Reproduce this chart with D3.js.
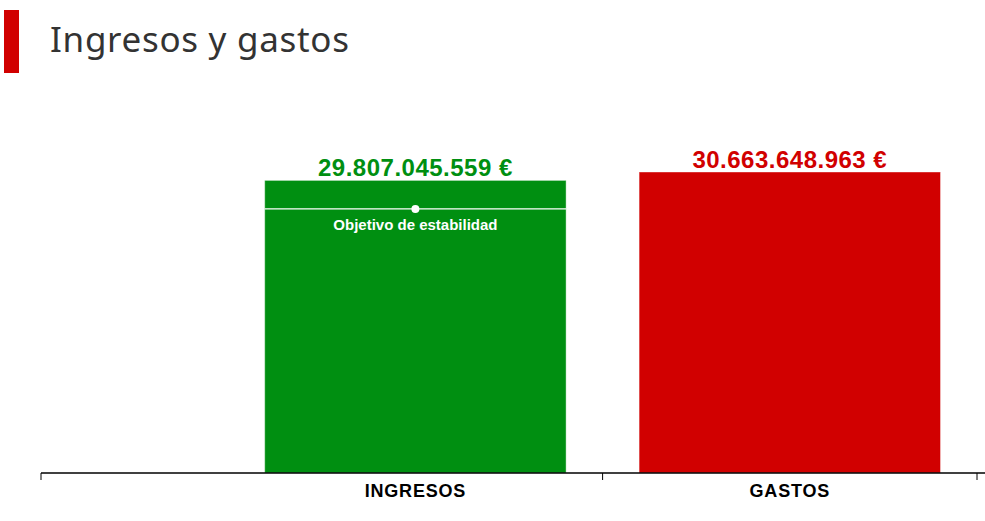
<!DOCTYPE html>
<html><head><meta charset="utf-8">
<script src="https://cdn.jsdelivr.net/npm/d3@7"></script>
<style>body{margin:0;background:#fff}svg{display:block}</style>
</head><body>
<svg id="c" width="985" height="521"></svg>
<script>
const categories = ["", "INGRESOS", "GASTOS"];
const values = [null, 29807045559, 30663648963];
const valueLabels = ["", "29.807.045.559 €", "30.663.648.963 €"];
const objetivo = [null, 26900000000, null];
const objetivoLabel = "Objetivo de estabilidad";
const colors = [null, "#008f11", "#d10000"];
const title = "Ingresos y gastos";

const svg = d3.select("#c");
const W = 985, H = 521;
const left = 41, right = 977, base = 473;

// title
svg.append("rect").attr("x",4).attr("y",10).attr("width",15).attr("height",63).attr("fill","#d10000");
svg.append("text").attr("x",50).attr("y",52).text(title)
  .attr("font-family","'Noto Sans', 'Open Sans', sans-serif").attr("font-size",35)
  .attr("letter-spacing",0.7).attr("fill","#333");

// x scale: first band is half-width (blank)
const bandW = (right-left)/2.5;
const x = d3.scaleBand().domain(categories).range([left - bandW/2, right]).paddingInner(0).paddingOuter(0);
const y = d3.scaleLinear().domain([0, 30663648963]).range([base, 172]);

const barW = bandW*0.805;
const data = categories.map((c,i)=>({c, v:values[i], lab:valueLabels[i], o:objetivo[i], col:colors[i]})).filter(d=>d.v!=null);

const g = svg.append("g");
g.selectAll("rect.bar").data(data).join("rect").attr("class","bar")
  .attr("x", d=>x(d.c)+(x.bandwidth()-barW)/2).attr("width",barW)
  .attr("y", d=>y(d.v)).attr("height", d=>base-y(d.v))
  .attr("fill", d=>d.col).attr("stroke","rgba(255,255,255,0.4)").attr("stroke-width",1);

g.selectAll("text.val").data(data).join("text").attr("class","val")
  .attr("x", d=>x(d.c)+x.bandwidth()/2).attr("y", d=>y(d.v)-4)
  .attr("text-anchor","middle").attr("font-family","'Liberation Sans', Arial, sans-serif")
  .attr("font-weight","bold").attr("font-size",24).attr("letter-spacing",0.5)
  .attr("fill", d=>d.col).text(d=>d.lab);

const od = data.filter(d=>d.o!=null);
g.selectAll("line.obj").data(od).join("line").attr("class","obj")
  .attr("x1", d=>x(d.c)+(x.bandwidth()-barW)/2).attr("x2", d=>x(d.c)+(x.bandwidth()+barW)/2)
  .attr("y1", d=>y(d.o)).attr("y2", d=>y(d.o)).attr("stroke","#fff").attr("stroke-width",1.2);
g.selectAll("circle.obj").data(od).join("circle").attr("class","obj")
  .attr("cx", d=>x(d.c)+x.bandwidth()/2).attr("cy", d=>y(d.o)).attr("r",4).attr("fill","#fff");
g.selectAll("text.obj").data(od).join("text").attr("class","obj")
  .attr("x", d=>x(d.c)+x.bandwidth()/2).attr("y", d=>y(d.o)+21)
  .attr("text-anchor","middle").attr("font-family","'Liberation Sans', Arial, sans-serif")
  .attr("font-weight","bold").attr("font-size",15).attr("fill","#fff").text(objetivoLabel);

// axis
const ax = svg.append("g").attr("transform",`translate(0,${base})`);
ax.append("line").attr("x1",left).attr("x2",W).attr("stroke","#000").attr("stroke-width",1.5);
const tickPos = [left, x("GASTOS"), right];
ax.selectAll("line.t").data(tickPos).join("line").attr("class","t")
  .attr("x1",d=>d).attr("x2",d=>d).attr("y1",0).attr("y2",7).attr("stroke","#000").attr("stroke-width",1);
ax.selectAll("text.cat").data(categories.filter(c=>c)).join("text").attr("class","cat")
  .attr("x", c=>x(c)+x.bandwidth()/2).attr("y",24).attr("text-anchor","middle")
  .attr("font-family","'Liberation Sans', Arial, sans-serif").attr("font-weight","bold")
  .attr("font-size",18).attr("letter-spacing",0.8).attr("fill","#000").text(c=>c);
</script>
</body></html>
